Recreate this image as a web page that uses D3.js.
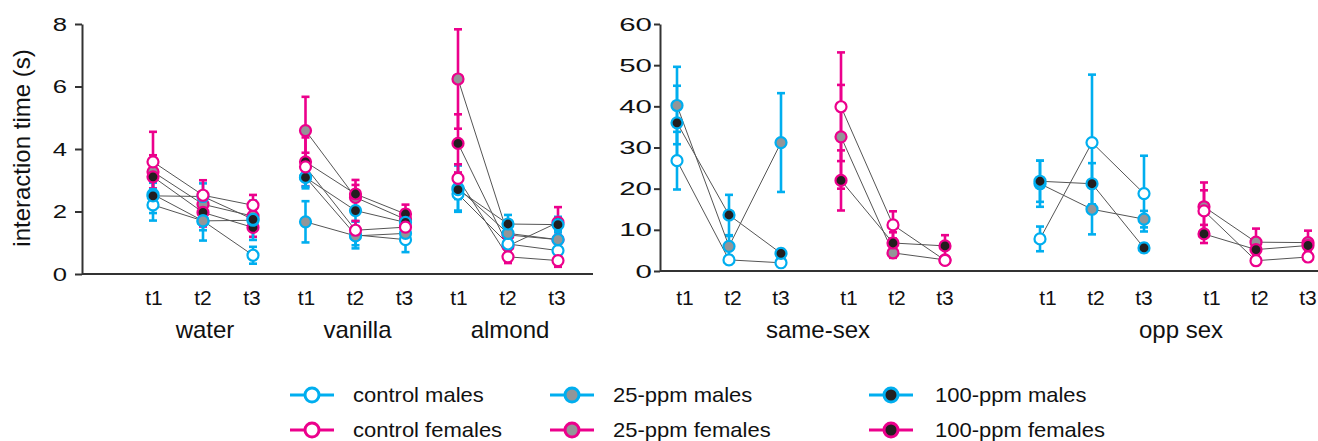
<!DOCTYPE html>
<html>
<head>
<meta charset="utf-8">
<script src="https://cdn.jsdelivr.net/npm/d3@7"></script>
<style>
    body { margin: 0; background: #fff; }
    svg { font-family: "Liberation Sans", Arial, sans-serif; display: block; }
</style>
</head>
<body>
<svg id="chart"></svg>
<script>
// ---- data ----
const times = ["t1", "t2", "t3"];
const odours = ["water", "vanilla", "almond"];
const contexts = ["same-sex", "opp sex"];
const leftTicks = [0, 2, 4, 6, 8];
const rightTicks = [0, 10, 20, 30, 40, 50, 60];

// odour test: water t1..t3, vanilla t1..t3, almond t1..t3
const odourControlMales = [2.21, 1.70, 0.60, 3.10, 1.25, 1.10, 2.56, 0.96, 0.75];
const odourControlFemales = [3.59, 2.52, 2.20, 3.43, 1.40, 1.50, 3.06, 0.55, 0.43];
const odour25Males = [2.55, 1.70, 1.72, 1.67, 1.22, 1.30, 2.75, 1.30, 1.10];
const odour25Females = [3.27, 2.23, 1.85, 4.59, 2.45, 1.75, 6.24, 1.25, 1.10];
const odour100Males = [2.50, 2.48, 1.75, 3.09, 2.03, 1.65, 2.70, 1.60, 1.58];
const odour100Females = [3.11, 1.97, 1.49, 3.59, 2.56, 1.92, 4.18, 0.90, 1.65];

const odourSeControlMales = [0.50, 0.63, 0.27, 0.30, 0.43, 0.40, 0.57, 0.25, 0.25];
const odourSeControlFemales = [0.96, 0.48, 0.33, 0.45, 0.30, 0.30, 0.45, 0.20, 0.20];
const odourSe25Males = [0.60, 0.30, 0.63, 0.66, 0.30, 0.30, 0.72, 0.30, 0.30];
const odourSe25Females = [0.53, 0.40, 0.35, 1.08, 0.40, 0.30, 1.59, 0.30, 0.30];
const odourSe100Males = [0.42, 0.42, 0.30, 0.35, 0.35, 0.30, 0.30, 0.29, 0.25];
const odourSe100Females = [0.40, 0.45, 0.30, 0.78, 0.45, 0.30, 0.93, 0.25, 0.49];

// social test: same-sex t1..t3, opp sex t1..t3
const socialControlMales = [26.8, 2.7, 2.0, 7.8, 31.2, 18.8];
const socialControlFemales = [39.9, 11.2, 2.6, 14.6, 2.5, 3.4];
const social25Males = [40.2, 6.0, 31.2, 21.2, 15.0, 12.6];
const social25Females = [32.6, 4.4, 2.7, 15.6, 7.0, 6.9];
const social100Males = [36.0, 13.6, 4.3, 21.8, 21.2, 5.6];
const social100Females = [22.0, 6.8, 6.1, 9.0, 5.2, 6.2];

const socialSeControlMales = [7.0, 1.0, 0.8, 3.0, 16.5, 9.2];
const socialSeControlFemales = [13.2, 3.3, 0.8, 5.0, 1.0, 1.0];
const socialSe25Males = [9.4, 2.5, 12.0, 5.6, 6.1, 2.0];
const socialSe25Females = [12.6, 1.2, 0.6, 5.9, 3.3, 2.9];
const socialSe100Males = [9.0, 4.9, 1.0, 5.0, 5.0, 1.0];
const socialSe100Females = [7.3, 2.6, 2.6, 2.2, 1.5, 1.5];

const legendLabels = ["control males", "control females", "25-ppm males", "25-ppm females", "100-ppm males", "100-ppm females"];

// ---- series table (draw order: later ones on top) ----
const blue = "#00aeef", pink = "#ec008c", grey = "#939598", black = "#231f20";
const series = [
    { name: "25-ppm females", sex: "F", fill: grey, odour: odour25Females, odourSe: odourSe25Females, social: social25Females, socialSe: socialSe25Females },
    { name: "100-ppm females", sex: "F", fill: black, odour: odour100Females, odourSe: odourSe100Females, social: social100Females, socialSe: socialSe100Females },
    { name: "control males", sex: "M", fill: "#fff", odour: odourControlMales, odourSe: odourSeControlMales, social: socialControlMales, socialSe: socialSeControlMales },
    { name: "25-ppm males", sex: "M", fill: grey, odour: odour25Males, odourSe: odourSe25Males, social: social25Males, socialSe: socialSe25Males },
    { name: "100-ppm males", sex: "M", fill: black, odour: odour100Males, odourSe: odourSe100Males, social: social100Males, socialSe: socialSe100Males },
    { name: "control females", sex: "F", fill: "#fff", odour: odourControlFemales, odourSe: odourSeControlFemales, social: socialControlFemales, socialSe: socialSeControlFemales }
];
series.forEach(s => s.stroke = s.sex === "M" ? blue : pink);

// ---- layout ----
var width = 1318,
    height = 441;

var svg = d3.select("#chart")
    .attr("width", width)
    .attr("height", height);

var yLeft = d3.scaleLinear().domain([0, 8]).range([274, 24]);
var yRight = d3.scaleLinear().domain([0, 60]).range([271, 24]);

var xOdour = d3.scalePoint().domain(odours).range([203, 508]);
var xTime = d3.scalePoint().domain(times).range([-50, 50]);
var xTimeLabel = d3.scalePoint().domain(times).range([-49, 49]);
var xContext = d3.scalePoint().domain(contexts).range([811, 1174]);
var xSex = d3.scalePoint().domain(["M", "F"]).range([-82, 82]);
var xTimeSocial = d3.scalePoint().domain(times).range([-52, 52]);
var xTimeSocialLabel = d3.scalePoint().domain(times).range([-48, 48]);

// build point lists: one list per series per group
function odourGroups(s) {
    return odours.map((g, gi) => times.map((t, ti) => ({
        x: xOdour(g) + xTime(t),
        y: yLeft(s.odour[gi * 3 + ti]),
        lo: yLeft(s.odour[gi * 3 + ti] - s.odourSe[gi * 3 + ti]),
        hi: yLeft(s.odour[gi * 3 + ti] + s.odourSe[gi * 3 + ti])
    })));
}
function socialGroups(s) {
    return contexts.map((c, ci) => times.map((t, ti) => ({
        x: xContext(c) + xSex(s.sex) + xTimeSocial(t),
        y: yRight(s.social[ci * 3 + ti]),
        lo: yRight(s.social[ci * 3 + ti] - s.socialSe[ci * 3 + ti]),
        hi: yRight(s.social[ci * 3 + ti] + s.socialSe[ci * 3 + ti])
    })));
}
series.forEach(s => s.groups = odourGroups(s).concat(socialGroups(s)));

// ---- axes ----
function stretchTicks(sel, k) {
    sel.selectAll(".tick text").each(function () {
        var t = d3.select(this);
        var x = +t.attr("x");
        t.attr("x", 0).attr("transform", "translate(" + x + ",0) scale(" + k + ",1)");
    });
}

var axL = svg.append("g")
    .attr("transform", "translate(82,0)")
    .call(d3.axisLeft(yLeft).tickValues(leftTicks).tickSize(7).tickSizeOuter(0).tickPadding(8));
var axR = svg.append("g")
    .attr("transform", "translate(660,0)")
    .call(d3.axisLeft(yRight).tickValues(rightTicks).tickSize(6).tickSizeOuter(0).tickPadding(2));

[axL, axR].forEach(a => {
    a.selectAll("path, line").attr("stroke", "#333").attr("stroke-width", 2);
    a.selectAll("text").attr("fill", "#111").style("font-size", "19px");
});
stretchTicks(axL, 1.35);
stretchTicks(axR, 1.55);

svg.append("line").attr("x1", 82).attr("x2", 593).attr("y1", 274).attr("y2", 274)
    .attr("stroke", "#333").attr("stroke-width", 2);
svg.append("line").attr("x1", 660).attr("x2", width).attr("y1", 271).attr("y2", 271)
    .attr("stroke", "#333").attr("stroke-width", 2);

svg.append("text")
    .attr("transform", "translate(30,148) rotate(-90)")
    .attr("text-anchor", "middle")
    .style("font-size", "24px")
    .attr("fill", "#111")
    .text("interaction time (s)");

// x tick labels
var tickLabels = [];
odours.forEach(g => times.forEach(t => tickLabels.push({ x: xOdour(g) + xTimeLabel(t), t: t })));
contexts.forEach(c => ["M", "F"].forEach(sx => times.forEach(t =>
    tickLabels.push({ x: xContext(c) + xSex(sx) + 4 + xTimeSocialLabel(t), t: t }))));

svg.append("g").selectAll("text")
    .data(tickLabels).enter()
    .append("text")
    .attr("x", d => d.x)
    .attr("y", 305)
    .attr("text-anchor", "middle")
    .style("font-size", "21px")
    .attr("fill", "#111")
    .text(d => d.t);

var groupLabels = odours.map(g => ({ x: xOdour(g) + 2, label: g }))
    .concat(contexts.map(c => ({ x: xContext(c) + 7, label: c })));
svg.append("g").selectAll("text")
    .data(groupLabels).enter()
    .append("text")
    .attr("x", d => d.x)
    .attr("y", 338)
    .attr("text-anchor", "middle")
    .style("font-size", "24px")
    .attr("fill", "#111")
    .text(d => d.label);

// ---- marks ----
var errLayer = svg.append("g");
var lineLayer = svg.append("g");
var dotLayer = svg.append("g");

var line = d3.line().x(d => d.x).y(d => d.y);

series.forEach(s => {
    s.groups.forEach(pts => {
        var eg = errLayer.append("g").attr("stroke", s.stroke).attr("stroke-width", 2.6);
        pts.forEach(p => {
            eg.append("line").attr("x1", p.x).attr("x2", p.x).attr("y1", p.lo).attr("y2", p.hi);
            eg.append("line").attr("x1", p.x - 4).attr("x2", p.x + 4).attr("y1", p.lo).attr("y2", p.lo);
            eg.append("line").attr("x1", p.x - 4).attr("x2", p.x + 4).attr("y1", p.hi).attr("y2", p.hi);
        });
        lineLayer.append("path")
            .attr("d", line(pts))
            .attr("fill", "none")
            .attr("stroke", "#555")
            .attr("stroke-width", 1);
    });
});

series.forEach(s => {
    var pts = [].concat.apply([], s.groups);
    dotLayer.append("g").selectAll("circle")
        .data(pts).enter()
        .append("circle")
        .attr("cx", d => d.x)
        .attr("cy", d => d.y)
        .attr("r", 5.5)
        .attr("fill", s.fill)
        .attr("stroke", s.stroke)
        .attr("stroke-width", 2.2);
});

// ---- legend ----
var legendCol = d3.scalePoint().domain([0, 1, 2]).range([312, 891]);
var legendRow = d3.scalePoint().domain([0, 1]).range([395, 430]);
var legend = svg.append("g");
legendLabels.forEach((name, i) => {
    var s = series.find(d => d.name === name);
    var col = Math.floor(i / 2), row = i % 2;
    var cx = col === 1 ? 572 : legendCol(col), cy = legendRow(row);
    var g = legend.append("g").attr("transform", "translate(" + cx + "," + cy + ")");
    g.append("line").attr("x1", -22).attr("x2", 22).attr("stroke", s.stroke).attr("stroke-width", 3);
    g.append("circle").attr("r", 7).attr("fill", s.fill).attr("stroke", s.stroke).attr("stroke-width", 3);
    g.append("text")
        .attr("transform", "translate(" + (col === 2 ? 44 : 41) + ",7) scale(1.1,1)")
        .style("font-size", "20px")
        .attr("fill", "#111")
        .text(name);
});
</script>
</body>
</html>
